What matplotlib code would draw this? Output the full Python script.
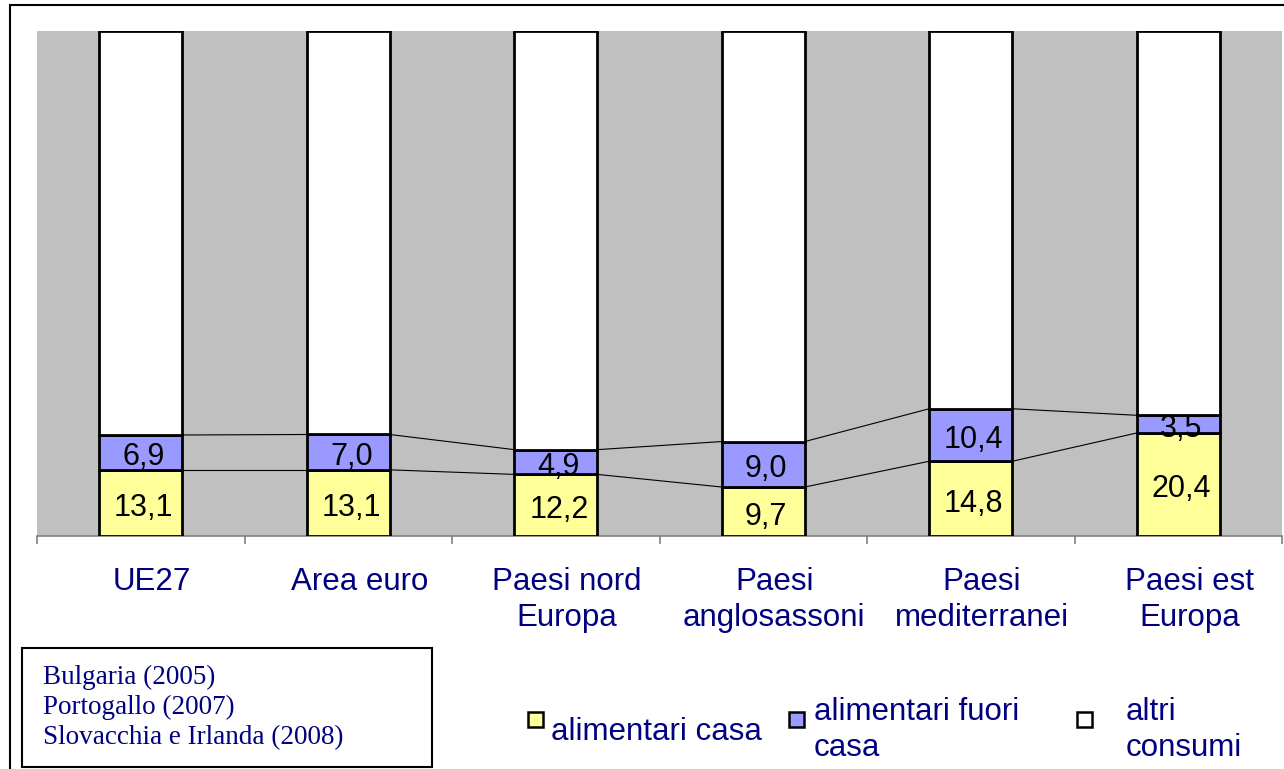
import numpy as np
import matplotlib.pyplot as plt
import matplotlib.transforms as mtransforms
from matplotlib.patches import Rectangle

W, H = 1284, 769

categories = ['UE27', 'Area euro', 'Paesi nord\nEuropa', 'Paesi\nanglosassoni',
              'Paesi\nmediterranei', 'Paesi est\nEuropa']
casa = np.array([13.1, 13.1, 12.2, 9.7, 14.8, 20.4])     # alimentari casa
fuori = np.array([6.9, 7.0, 4.9, 9.0, 10.4, 3.5])       # alimentari fuori casa
altri = 100 - casa - fuori                                # altri consumi
legend_labels = ['alimentari casa', 'alimentari fuori\ncasa', 'altri\nconsumi']
note_lines = ['Bulgaria (2005)', 'Portogallo (2007)', 'Slovacchia e Irlanda (2008)']

col_casa = '#FFFF99'
col_fuori = '#9999FF'
navy = '#000080'
sans = 'Liberation Sans'

fig = plt.figure(figsize=(W / 100, H / 100), dpi=100)
ax = fig.add_axes([37 / W, 1 - 536 / H, (1282 - 37) / W, (536 - 31) / H])
ax.set_facecolor('#C0C0C0')

x = np.arange(len(categories))
bw = 0.4
ax.bar(x, casa, bw, color=col_casa, edgecolor='black', lw=2.0, zorder=3)
ax.bar(x, fuori, bw, bottom=casa, color=col_fuori, edgecolor='black', lw=2.0, zorder=3)
ax.bar(x, altri, bw, bottom=casa + fuori, color='white', edgecolor='black', lw=2.0, zorder=3)

# series lines between bars
for level in [casa, casa + fuori]:
    for i in range(len(x) - 1):
        ax.plot([x[i] + bw / 2, x[i + 1] - bw / 2], [level[i], level[i + 1]],
                color='black', lw=0.8, zorder=2)

ax.set_xlim(-0.5, len(x) - 0.5)
ax.set_ylim(0, 100)
for s in ['top', 'right', 'left']:
    ax.spines[s].set_visible(False)
ax.spines['bottom'].set_color('#808080')
ax.spines['bottom'].set_linewidth(1.2)
ax.set_yticks([])
ax.set_xticks(np.arange(-0.5, len(x), 1))
ax.set_xticklabels([])
ax.tick_params(axis='x', length=6, width=1.2, color='#808080')

def fmt(v):
    return f'{v:.1f}'.replace('.', ',')

shift = mtransforms.ScaledTranslation(3 / 100, -5 / 100, fig.dpi_scale_trans)
for i in x:
    ax.text(x[i], casa[i] / 2, fmt(casa[i]), ha='center', va='center',
            fontsize=22, family=sans, zorder=4, transform=ax.transData + shift)
    ax.text(x[i], casa[i] + fuori[i] / 2, fmt(fuori[i]), ha='center', va='center',
            fontsize=22, family=sans, zorder=4, transform=ax.transData + shift)

# category labels
lab_tr = ax.get_xaxis_transform() + mtransforms.ScaledTranslation(11 / 100, -31 / 100, fig.dpi_scale_trans)
for i, c in enumerate(categories):
    ax.text(x[i], 0, c, transform=lab_tr, ha='center', va='top', multialignment='center',
            fontsize=22.5, family=sans, color=navy, linespacing=1.25)

# outer frame (clipped at right and bottom)
fig.add_artist(Rectangle((10.5 / W, -0.05), 1.1, 1 - 4.5 / H + 0.05, transform=fig.transFigure,
                         fill=False, ec='black', lw=1.5))

# note box
fig.add_artist(Rectangle((22 / W, 1 - 767 / H), (432 - 22) / W, (767 - 648) / H,
                         transform=fig.transFigure, fill=False, ec='black', lw=1.5))
for ln, yy in zip(note_lines, [677, 707, 738]):
    fig.text(43 / W, 1 - yy / H, ln, va='center', ha='left', fontsize=19.5,
             family='Liberation Serif', color=navy)

# legend
sq_x = [528, 789, 1077]
txt_x = [551, 814, 1126]
txt_y = [732, 730, 730]
for col, sx, tx, ty, lab in zip([col_casa, col_fuori, 'white'], sq_x, txt_x, txt_y, legend_labels):
    fig.add_artist(Rectangle((sx / W, 1 - 727 / H), 15 / W, 15 / H, transform=fig.transFigure,
                             fc=col, ec='black', lw=1.8))
    fig.text(tx / W, 1 - ty / H, lab, va='center', ha='left', fontsize=22.5,
             family=sans, color=navy, linespacing=1.25)

fig.savefig('out.png', dpi=100)
